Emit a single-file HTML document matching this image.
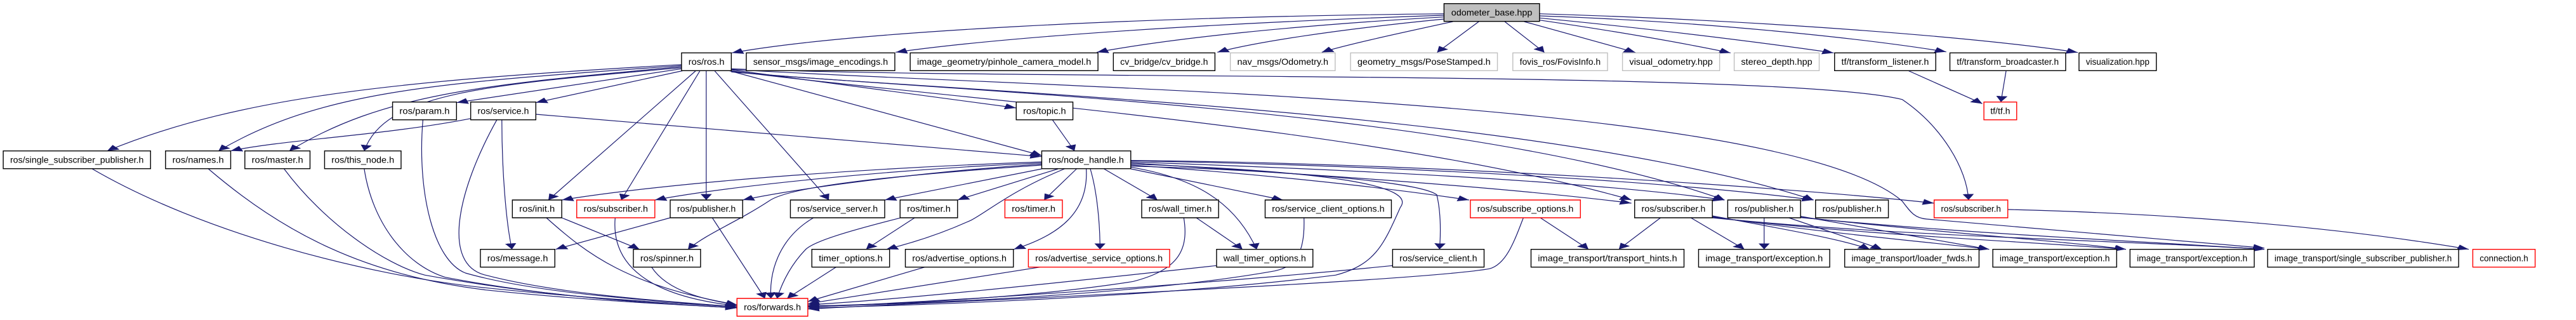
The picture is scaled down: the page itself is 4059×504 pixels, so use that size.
<!DOCTYPE html>
<html><head><meta charset="utf-8"><style>
html,body{margin:0;padding:0;background:#fff;}
svg{display:block;}
text{font-family:"Liberation Sans",sans-serif;font-size:42px;text-anchor:middle;fill:#000;}
.e path{fill:none;stroke:#191970;stroke-width:1.2;vector-effect:non-scaling-stroke;}
rect{vector-effect:non-scaling-stroke;stroke-width:1.4;}
.b{fill:#fff;stroke:#000;}
.r{fill:#fff;stroke:#ff0000;}
.g{fill:#fff;stroke:#bfbfbf;}
.f{fill:#bfbfbf;stroke:#000;}
</style></head><body>
<svg width="4059" height="504" viewBox="0 0 6365 1512" preserveAspectRatio="none" xmlns="http://www.w3.org/2000/svg">
<defs><marker id="a" markerUnits="userSpaceOnUse" markerWidth="28" markerHeight="28" viewBox="0 0 10 10" refX="10" refY="5" orient="auto"><path d="M0,0 L10,5 L0,10 z" fill="#191970"/></marker></defs>
<g class="e" marker-end="url(#a)">
<path d="M3568,65 C2800,80 2100,150 1808,250"/>
<path d="M3568,72 C3000,110 2500,170 2213,247"/>
<path d="M3568,80 C3200,120 2900,180 2710,247"/>
<path d="M3568,90 C3300,140 3100,200 3008,247"/>
<path d="M3590,102 C3450,160 3330,210 3266,247"/>
<path d="M3654,102 L3551,248"/>
<path d="M3718,102 L3816,248"/>
<path d="M3766,102 L4041,248"/>
<path d="M3804,95 C4000,150 4150,200 4276,250"/>
<path d="M3804,85 C4100,140 4350,200 4531,250"/>
<path d="M3804,75 C4200,100 4600,180 4809,245"/>
<path d="M3804,65 C4400,100 4900,180 5134,248"/>
<path d="M4714,333 L4898,490"/>
<path d="M4957,333 L4944,482"/>
<path d="M1684,305 C1000,380 600,450 265,713"/>
<path d="M1684,310 C1100,390 800,420 540,713"/>
<path d="M1684,315 C1200,400 950,440 715,713"/>
<path d="M1684,320 C1200,400 950,440 900,713"/>
<path d="M1684,325 L1128,485"/>
<path d="M1690,333 L1324,485"/>
<path d="M1720,333 L1355,945"/>
<path d="M1730,333 L1535,945"/>
<path d="M1745,333 L1745,945"/>
<path d="M1765,333 L2048,945"/>
<path d="M1800,333 L2574,735"/>
<path d="M1807,330 L2511,510"/>
<path d="M1807,335 C2300,460 3400,600 4031,945"/>
<path d="M1807,338 C2300,430 3600,500 4261,945"/>
<path d="M1807,340 C2400,440 3800,520 4481,945"/>
<path d="M1807,325 C2500,380 4400,330 4700,470 C4800,600 4860,800 4864,945"/>
<path d="M1807,328 C2600,420 4400,460 4700,950 C4720,1000 4730,1030 4760,1035 L5595,1172"/>
<path d="M1163,560 C950,640 700,660 570,713"/>
<path d="M1324,540 L2574,740"/>
<path d="M1240,565 C1240,800 1250,1050 1265,1178"/>
<path d="M1228,565 C1130,900 1090,1250 1200,1300 C1400,1400 1700,1430 1821,1450"/>
<path d="M1045,565 C1030,900 1070,1230 1150,1290 C1350,1400 1700,1430 1821,1450"/>
<path d="M2600,565 L2655,713"/>
<path d="M228,798 C500,1100 900,1300 1200,1360 C1500,1420 1750,1440 1821,1450"/>
<path d="M515,798 C700,1100 900,1300 1200,1370 C1500,1430 1750,1445 1821,1455"/>
<path d="M702,798 C800,1050 950,1250 1050,1300 C1400,1420 1700,1440 1821,1455"/>
<path d="M900,798 C920,1050 1000,1250 1100,1310 C1400,1420 1700,1440 1821,1455"/>
<path d="M2574,765 C2200,790 1700,850 1388,945"/>
<path d="M2574,770 C2200,800 1800,880 1618,945"/>
<path d="M2574,775 C2300,810 2000,880 1835,945"/>
<path d="M2574,780 C2200,830 1950,880 1900,950 C1820,1050 1750,1100 1700,1178"/>
<path d="M2574,798 L2186,945"/>
<path d="M2614,798 L2366,945"/>
<path d="M2630,798 C2500,900 2440,1000 2400,1040 C2320,1110 2250,1150 2190,1178"/>
<path d="M2660,798 L2580,945"/>
<path d="M2684,798 C2690,1000 2620,1110 2505,1178"/>
<path d="M2694,798 C2710,900 2718,1050 2718,1178"/>
<path d="M2728,798 L2860,945"/>
<path d="M2794,790 C2950,840 3050,950 3105,1178"/>
<path d="M2794,798 L3170,945"/>
<path d="M2794,780 C3100,820 3400,880 3630,945"/>
<path d="M2794,785 C3100,800 3500,850 3550,920 C3560,1000 3560,1100 3557,1178"/>
<path d="M2794,770 C3200,820 3700,880 4031,960"/>
<path d="M2794,765 C3300,800 3900,850 4261,945"/>
<path d="M2794,760 C3400,780 4100,850 4481,945"/>
<path d="M2794,758 C3500,770 4400,880 4779,960"/>
<path d="M2794,775 C3300,810 3500,880 3460,980 C3420,1150 3400,1250 3300,1300 C2800,1420 2100,1450 1996,1455"/>
<path d="M1350,1029 C1450,1200 1550,1350 1821,1440"/>
<path d="M1388,1029 L1580,1178"/>
<path d="M1520,1029 C1510,1250 1600,1400 1821,1445"/>
<path d="M1656,1029 L1373,1178"/>
<path d="M1760,1029 L1890,1410"/>
<path d="M1610,1262 C1650,1380 1750,1420 1821,1440"/>
<path d="M2010,1029 C1920,1130 1900,1300 1905,1410"/>
<path d="M2260,1029 L2140,1178"/>
<path d="M2224,1030 C2100,1090 2010,1140 1990,1180 C1950,1260 1930,1350 1920,1410"/>
<path d="M2066,1262 L1945,1410"/>
<path d="M2285,1262 L1996,1425"/>
<path d="M2570,1262 L1996,1435"/>
<path d="M2925,1029 C2940,1200 2900,1280 2800,1330 C2500,1420 2100,1445 1996,1445"/>
<path d="M2956,1029 L3070,1178"/>
<path d="M3006,1255 C2600,1340 2200,1420 1996,1440"/>
<path d="M3222,1029 C3225,1200 3200,1260 3150,1280 C2800,1400 2200,1440 1996,1448"/>
<path d="M3441,1255 C3000,1340 2300,1430 1996,1450"/>
<path d="M3764,1029 C3740,1150 3720,1250 3680,1270 C3500,1330 2400,1420 1996,1460"/>
<path d="M3806,1029 L3925,1178"/>
<path d="M4103,1029 L4000,1178"/>
<path d="M4178,1029 L4310,1178"/>
<path d="M4231,1020 C4400,1080 4550,1130 4620,1178"/>
<path d="M4231,1024 C4500,1100 4800,1150 4915,1178"/>
<path d="M4231,1027 C4600,1110 5000,1140 5253,1178"/>
<path d="M4231,1029 C4700,1120 5300,1140 5595,1178"/>
<path d="M4359,1029 L4359,1178"/>
<path d="M4420,1029 L4650,1178"/>
<path d="M4449,1022 C4650,1090 4800,1140 4915,1178"/>
<path d="M4449,1026 C4800,1100 5100,1140 5253,1178"/>
<path d="M4449,1028 C4900,1110 5300,1140 5595,1178"/>
<path d="M4961,990 C5400,1010 5800,1080 6100,1178"/>
</g>
<g>
<rect class="f" x="3568" y="17" width="236" height="84"/><text x="3686" y="73" textLength="200" lengthAdjust="spacingAndGlyphs">odometer_base.hpp</text>
<rect class="b" x="1684" y="250" width="123" height="84"/><text x="1745.5" y="306" textLength="89" lengthAdjust="spacingAndGlyphs">ros/ros.h</text>
<rect class="b" x="1844" y="250" width="367" height="84"/><text x="2027.5" y="306" textLength="333" lengthAdjust="spacingAndGlyphs">sensor_msgs/image_encodings.h</text>
<rect class="b" x="2249" y="250" width="464" height="84"/><text x="2481" y="306" textLength="430" lengthAdjust="spacingAndGlyphs">image_geometry/pinhole_camera_model.h</text>
<rect class="b" x="2751" y="250" width="251" height="84"/><text x="2876.5" y="306" textLength="217" lengthAdjust="spacingAndGlyphs">cv_bridge/cv_bridge.h</text>
<rect class="g" x="3040" y="250" width="259" height="84"/><text x="3169.5" y="306" textLength="225" lengthAdjust="spacingAndGlyphs">nav_msgs/Odometry.h</text>
<rect class="g" x="3337" y="250" width="363" height="84"/><text x="3518.5" y="306" textLength="329" lengthAdjust="spacingAndGlyphs">geometry_msgs/PoseStamped.h</text>
<rect class="g" x="3738" y="250" width="234" height="84"/><text x="3855" y="306" textLength="200" lengthAdjust="spacingAndGlyphs">fovis_ros/FovisInfo.h</text>
<rect class="g" x="4009" y="250" width="240" height="84"/><text x="4129" y="306" textLength="206" lengthAdjust="spacingAndGlyphs">visual_odometry.hpp</text>
<rect class="g" x="4285" y="250" width="210" height="84"/><text x="4390" y="306" textLength="176" lengthAdjust="spacingAndGlyphs">stereo_depth.hpp</text>
<rect class="b" x="4533" y="250" width="250" height="84"/><text x="4658" y="306" textLength="216" lengthAdjust="spacingAndGlyphs">tf/transform_listener.h</text>
<rect class="b" x="4818" y="250" width="286" height="84"/><text x="4961" y="306" textLength="252" lengthAdjust="spacingAndGlyphs">tf/transform_broadcaster.h</text>
<rect class="b" x="5137" y="250" width="191" height="84"/><text x="5232.5" y="306" textLength="157" lengthAdjust="spacingAndGlyphs">visualization.hpp</text>
<rect class="b" x="970" y="482" width="158" height="84"/><text x="1049" y="538" textLength="124" lengthAdjust="spacingAndGlyphs">ros/param.h</text>
<rect class="b" x="1163" y="482" width="161" height="84"/><text x="1243.5" y="538" textLength="127" lengthAdjust="spacingAndGlyphs">ros/service.h</text>
<rect class="b" x="2511" y="482" width="140" height="84"/><text x="2581" y="538" textLength="106" lengthAdjust="spacingAndGlyphs">ros/topic.h</text>
<rect class="r" x="4902" y="482" width="81" height="84"/><text x="4942.5" y="538" textLength="49" lengthAdjust="spacingAndGlyphs">tf/tf.h</text>
<rect class="b" x="8" y="713" width="364" height="84"/><text x="190" y="769" textLength="330" lengthAdjust="spacingAndGlyphs">ros/single_subscriber_publisher.h</text>
<rect class="b" x="409" y="713" width="161" height="84"/><text x="489.5" y="769" textLength="127" lengthAdjust="spacingAndGlyphs">ros/names.h</text>
<rect class="b" x="605" y="713" width="161" height="84"/><text x="685.5" y="769" textLength="127" lengthAdjust="spacingAndGlyphs">ros/master.h</text>
<rect class="b" x="802" y="713" width="189" height="84"/><text x="896.5" y="769" textLength="155" lengthAdjust="spacingAndGlyphs">ros/this_node.h</text>
<rect class="b" x="2574" y="713" width="220" height="84"/><text x="2684" y="769" textLength="186" lengthAdjust="spacingAndGlyphs">ros/node_handle.h</text>
<rect class="b" x="1266" y="945" width="122" height="84"/><text x="1327" y="1001" textLength="88" lengthAdjust="spacingAndGlyphs">ros/init.h</text>
<rect class="r" x="1425" y="945" width="193" height="84"/><text x="1521.5" y="1001" textLength="159" lengthAdjust="spacingAndGlyphs">ros/subscriber.h</text>
<rect class="b" x="1656" y="945" width="179" height="84"/><text x="1745.5" y="1001" textLength="145" lengthAdjust="spacingAndGlyphs">ros/publisher.h</text>
<rect class="b" x="1953" y="945" width="233" height="84"/><text x="2069.5" y="1001" textLength="199" lengthAdjust="spacingAndGlyphs">ros/service_server.h</text>
<rect class="b" x="2224" y="945" width="142" height="84"/><text x="2295" y="1001" textLength="108" lengthAdjust="spacingAndGlyphs">ros/timer.h</text>
<rect class="r" x="2483" y="945" width="142" height="84"/><text x="2554" y="1001" textLength="108" lengthAdjust="spacingAndGlyphs">ros/timer.h</text>
<rect class="b" x="2821" y="945" width="190" height="84"/><text x="2916" y="1001" textLength="156" lengthAdjust="spacingAndGlyphs">ros/wall_timer.h</text>
<rect class="b" x="3126" y="945" width="312" height="84"/><text x="3282" y="1001" textLength="278" lengthAdjust="spacingAndGlyphs">ros/service_client_options.h</text>
<rect class="r" x="3633" y="945" width="272" height="84"/><text x="3769" y="1001" textLength="238" lengthAdjust="spacingAndGlyphs">ros/subscribe_options.h</text>
<rect class="b" x="4039" y="945" width="192" height="84"/><text x="4135" y="1001" textLength="158" lengthAdjust="spacingAndGlyphs">ros/subscriber.h</text>
<rect class="b" x="4269" y="945" width="180" height="84"/><text x="4359" y="1001" textLength="146" lengthAdjust="spacingAndGlyphs">ros/publisher.h</text>
<rect class="b" x="4486" y="945" width="180" height="84"/><text x="4576" y="1001" textLength="146" lengthAdjust="spacingAndGlyphs">ros/publisher.h</text>
<rect class="r" x="4779" y="945" width="182" height="84"/><text x="4870" y="1001" textLength="148" lengthAdjust="spacingAndGlyphs">ros/subscriber.h</text>
<rect class="b" x="1187" y="1178" width="184" height="84"/><text x="1279" y="1234" textLength="150" lengthAdjust="spacingAndGlyphs">ros/message.h</text>
<rect class="b" x="1565" y="1178" width="166" height="84"/><text x="1648" y="1234" textLength="132" lengthAdjust="spacingAndGlyphs">ros/spinner.h</text>
<rect class="b" x="2006" y="1178" width="192" height="84"/><text x="2102" y="1234" textLength="158" lengthAdjust="spacingAndGlyphs">timer_options.h</text>
<rect class="b" x="2237" y="1178" width="267" height="84"/><text x="2370.5" y="1234" textLength="233" lengthAdjust="spacingAndGlyphs">ros/advertise_options.h</text>
<rect class="r" x="2541" y="1178" width="349" height="84"/><text x="2715.5" y="1234" textLength="315" lengthAdjust="spacingAndGlyphs">ros/advertise_service_options.h</text>
<rect class="b" x="3006" y="1178" width="238" height="84"/><text x="3125" y="1234" textLength="204" lengthAdjust="spacingAndGlyphs">wall_timer_options.h</text>
<rect class="b" x="3441" y="1178" width="226" height="84"/><text x="3554" y="1234" textLength="192" lengthAdjust="spacingAndGlyphs">ros/service_client.h</text>
<rect class="b" x="3783" y="1178" width="378" height="84"/><text x="3972" y="1234" textLength="344" lengthAdjust="spacingAndGlyphs">image_transport/transport_hints.h</text>
<rect class="b" x="4197" y="1178" width="324" height="84"/><text x="4359" y="1234" textLength="290" lengthAdjust="spacingAndGlyphs">image_transport/exception.h</text>
<rect class="b" x="4558" y="1178" width="332" height="84"/><text x="4724" y="1234" textLength="298" lengthAdjust="spacingAndGlyphs">image_transport/loader_fwds.h</text>
<rect class="b" x="4924" y="1178" width="306" height="84"/><text x="5077" y="1234" textLength="272" lengthAdjust="spacingAndGlyphs">image_transport/exception.h</text>
<rect class="b" x="5263" y="1178" width="307" height="84"/><text x="5416.5" y="1234" textLength="273" lengthAdjust="spacingAndGlyphs">image_transport/exception.h</text>
<rect class="b" x="5603" y="1178" width="472" height="84"/><text x="5839" y="1234" textLength="438" lengthAdjust="spacingAndGlyphs">image_transport/single_subscriber_publisher.h</text>
<rect class="r" x="6110" y="1178" width="154" height="84"/><text x="6187" y="1234" textLength="120" lengthAdjust="spacingAndGlyphs">connection.h</text>
<rect class="r" x="1821" y="1410" width="175" height="84"/><text x="1908.5" y="1466" textLength="141" lengthAdjust="spacingAndGlyphs">ros/forwards.h</text>
</g>
</svg>
</body></html>
